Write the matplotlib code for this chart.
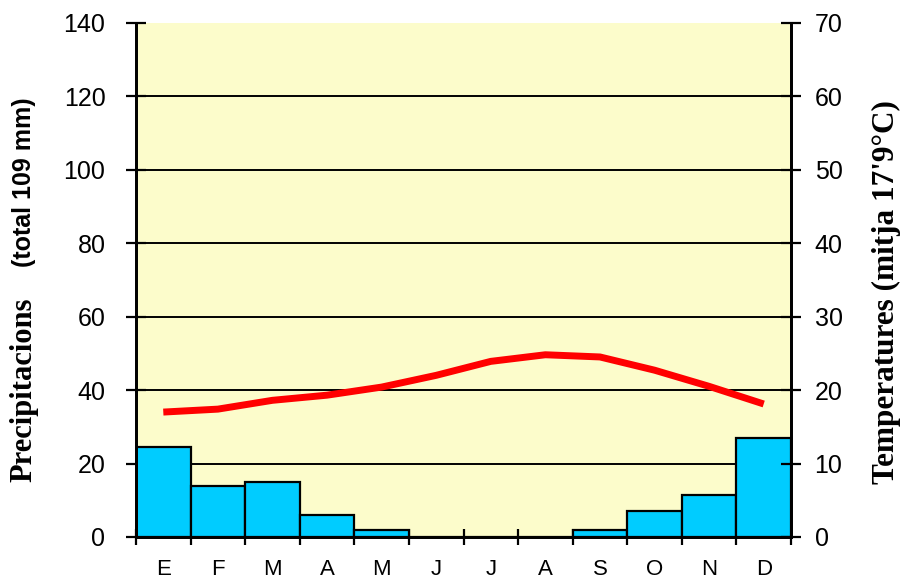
import matplotlib.pyplot as plt
from matplotlib import font_manager
import numpy as np

mesos = ["E", "F", "M", "A", "M", "J", "J", "A", "S", "O", "N", "D"]
precipitacions = [24.5, 14, 15, 6, 2, 0, 0, 0, 2, 7, 11.5, 27]
temperatures = [17.0, 17.4, 18.6, 19.3, 20.4, 22.0, 23.9, 24.8, 24.5, 22.7, 20.5, 18.1]

ticks_precip = list(range(0, 141, 20))
ticks_temp = list(range(0, 71, 10))

# font estreta si hi es
noms = {f.name for f in font_manager.fontManager.ttflist}
font_total = "Liberation Sans Narrow" if "Liberation Sans Narrow" in noms else "Liberation Sans"

plt.rcParams['font.family'] = ['Liberation Sans', 'DejaVu Sans']

fig = plt.figure(figsize=(9.02, 5.87), dpi=100)
ax = fig.add_axes([136 / 902, 1 - 537 / 587, 655 / 902, (537 - 22.6) / 587])
ax.set_facecolor("#FCFCCB")

x = np.arange(len(mesos)) + 0.5
for y in ticks_precip[1:-1]:
    ax.axhline(y, color="black", lw=1.4, zorder=1)
ax.bar(x, precipitacions, width=1.0, color="#00CCFF", edgecolor="black", linewidth=1.6, zorder=2)

ax.set_xlim(0, 12)
ax.set_ylim(0, 140)
ax.set_yticks(ticks_precip)
ax.set_xticks(range(0, 13))
ax.set_xticklabels([])
ax.set_xticks(x, minor=True)
ax.set_xticklabels(mesos, minor=True)
ax.tick_params(axis="x", which="major", direction="inout", length=12, width=1.6)
ax.tick_params(axis="x", which="minor", length=0, pad=16, labelsize=16)
ax.tick_params(axis="y", direction="inout", length=14, width=1.6, labelsize=18, pad=15)

for s in ["left", "right", "bottom"]:
    ax.spines[s].set_linewidth(2)
ax.spines["top"].set_visible(False)

ax2 = ax.twinx()
ax2.plot(x, temperatures, color="#FF0000", lw=5, solid_capstyle="butt", zorder=5)
ax2.set_ylim(0, 70)
ax2.set_yticks(ticks_temp)
ax2.tick_params(axis="y", direction="inout", length=14, width=1.6, labelsize=18, pad=10)
for s in ["left", "right", "bottom"]:
    ax2.spines[s].set_linewidth(2)
ax2.spines["top"].set_visible(False)

# etiquetes dels eixos
fig.text(24 / 902, 1 - 390 / 587, "Precipitacions", rotation=90, ha="center", va="center",
         family="Liberation Serif", fontweight="bold", fontsize=22)
fig.text(24 / 902, 1 - 182 / 587, "(total 109 mm)", rotation=90, ha="center", va="center",
         family=font_total, fontweight="bold", fontsize=18)
fig.text(886 / 902, 1 - 292 / 587, "Temperatures (mitja 17'9°C)", rotation=90, ha="center", va="center",
         family="Liberation Serif", fontweight="bold", fontsize=22.5)

plt.savefig("out.png", dpi=100)
